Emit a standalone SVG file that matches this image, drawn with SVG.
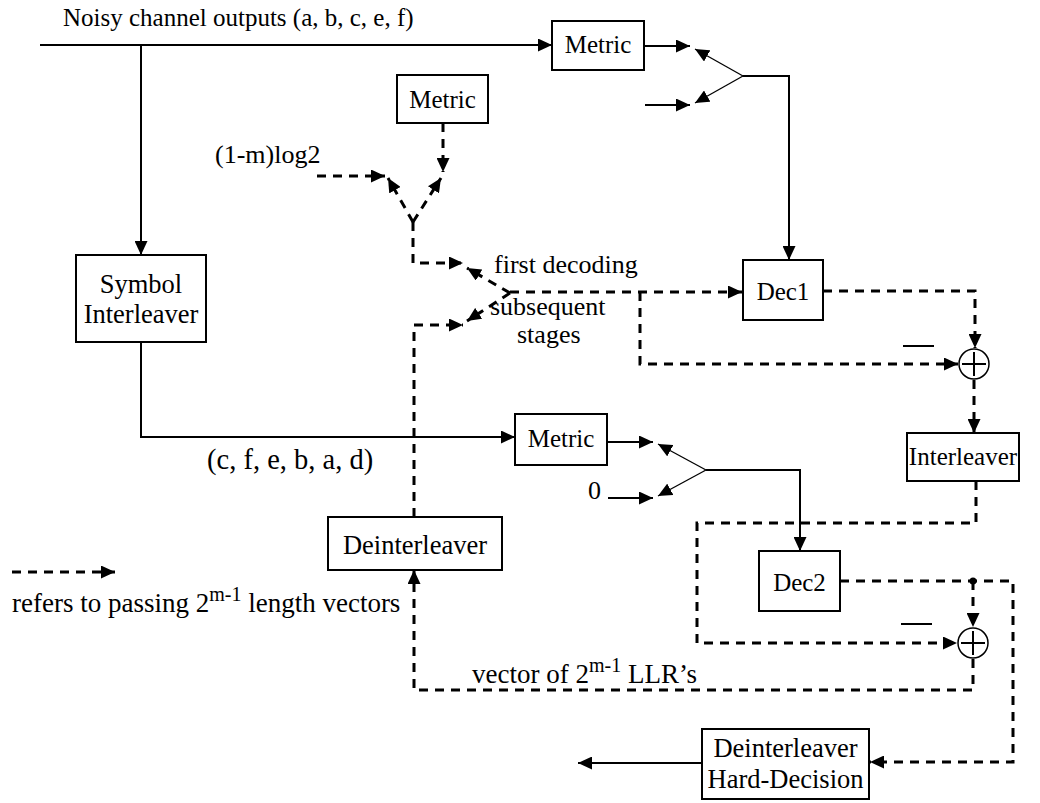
<svg xmlns="http://www.w3.org/2000/svg" width="1040" height="803" viewBox="0 0 1040 803">
<style>
  text{font-family:'Liberation Serif','Times New Roman','DejaVu Serif',serif;font-size:25px;fill:#000}
  .m{text-anchor:middle}
  .l{font-size:26.5px}
  .lab{font-size:26px}
  .big{font-size:27px}
  .sup{font-size:20px}
  .box{fill:#fff;stroke:#000;stroke-width:2}
  .s{fill:none;stroke:#000;stroke-width:2}
  .arm{fill:none;stroke:#000;stroke-width:1.3}
  .d{fill:none;stroke:#000;stroke-width:3;stroke-dasharray:9 7}
  .sum{fill:#fff;stroke:#000;stroke-width:1.5}
</style>
<defs>
  <marker id="ah" markerUnits="userSpaceOnUse" markerWidth="15" markerHeight="13" refX="14" refY="6.5" orient="auto">
    <path d="M0,0 L14,6.5 L0,13 z" fill="#000"/>
  </marker>
</defs>
<rect width="1040" height="803" fill="#fff"/>

<g id="connectors">
  <!-- solid signal paths -->
  <path class="s" d="M40,45 H552" marker-end="url(#ah)"/>
  <path class="s" d="M141,45 V255" marker-end="url(#ah)"/>
  <path class="s" d="M141,342 V437 H515" marker-end="url(#ah)"/>
  <path class="s" d="M644,46 H690" marker-end="url(#ah)"/>
  <path class="s" d="M645,105 H690" marker-end="url(#ah)"/>
  <path class="arm" d="M743,76 L695,49" marker-end="url(#ah)"/>
  <path class="arm" d="M743,76 L695,103" marker-end="url(#ah)"/>
  <path class="s" d="M743,76 H789 V260" marker-end="url(#ah)"/>
  <path class="s" d="M607,442 H653" marker-end="url(#ah)"/>
  <path class="s" d="M608,498 H653" marker-end="url(#ah)"/>
  <path class="arm" d="M706,470 L658,444" marker-end="url(#ah)"/>
  <path class="arm" d="M706,470 L658,496" marker-end="url(#ah)"/>
  <path class="s" d="M706,470 H800 V551" marker-end="url(#ah)"/>
  <path class="s" d="M702,763 H578" marker-end="url(#ah)"/>

  <!-- vector (dashed) paths -->
  <path class="d" d="M443,123 V172" marker-end="url(#ah)"/>
  <path class="d" d="M317,176 H385" marker-end="url(#ah)"/>
  <path class="d" d="M413,222 L388,178" marker-end="url(#ah)"/>
  <path class="d" d="M413,222 L441,178" marker-end="url(#ah)"/>
  <path class="d" d="M413,222 V263 H463" marker-end="url(#ah)"/>
  <path class="d" d="M414,517 V325 H463" marker-end="url(#ah)"/>
  <path class="d" d="M510,293 L467,268" marker-end="url(#ah)"/>
  <path class="d" d="M510,293 L467,321" marker-end="url(#ah)"/>
  <path class="d" d="M510,292 H742" marker-end="url(#ah)"/>
  <path class="d" d="M640,292 V364 H958" marker-end="url(#ah)"/>
  <path class="d" d="M823,291 H975 V348" marker-end="url(#ah)"/>
  <path class="d" d="M974,380 V433" marker-end="url(#ah)"/>
  <path class="d" d="M976,481 V523 H697 V643 H957" marker-end="url(#ah)"/>
  <path class="d" d="M840,581 H1013 V762 H870" marker-end="url(#ah)"/>
  <path class="d" d="M973,581 V627" marker-end="url(#ah)"/>
  <circle cx="973" cy="581" r="3.5" fill="#000"/>
  <path class="d" d="M973,659 V690 H414 V570" marker-end="url(#ah)"/>
  <path class="d" d="M12,572 H115" marker-end="url(#ah)"/>

  <!-- minus signs at the summing junctions -->
  <path class="s" d="M903,346 H934"/>
  <path class="s" d="M901,624 H932"/>
</g>

<g id="sum1">
  <circle class="sum" cx="974" cy="364" r="15"/>
  <path class="s" d="M974,352 V376 M962,364 H986"/>
</g>
<g id="sum2">
  <circle class="sum" cx="973" cy="643" r="15"/>
  <path class="s" d="M973,631 V655 M961,643 H985"/>
</g>

<g id="metric-top">
  <rect class="box" x="552" y="21" width="92" height="49"/>
  <text class="m" x="598" y="53">Metric</text>
</g>
<g id="metric-mid">
  <rect class="box" x="397" y="75" width="91" height="48"/>
  <text class="m" x="442.5" y="108">Metric</text>
</g>
<g id="metric-low">
  <rect class="box" x="515" y="414" width="92" height="51"/>
  <text class="m" x="561" y="447">Metric</text>
</g>
<g id="symbol-interleaver">
  <rect class="box" x="76" y="255" width="130" height="87"/>
  <text class="m l" x="141" y="293">Symbol</text>
  <text class="m l" x="141" y="323">Interleaver</text>
</g>
<g id="dec1">
  <rect class="box" x="743" y="260" width="80" height="60"/>
  <text class="m" x="783" y="300">Dec1</text>
</g>
<g id="interleaver">
  <rect class="box" x="907" y="433" width="112" height="48"/>
  <text class="m" x="963" y="465">Interleaver</text>
</g>
<g id="dec2">
  <rect class="box" x="759" y="551" width="81" height="60"/>
  <text class="m" x="799.5" y="591">Dec2</text>
</g>
<g id="deinterleaver">
  <rect class="box" x="328" y="517" width="174" height="53"/>
  <text class="m l" x="415" y="554">Deinterleaver</text>
</g>
<g id="deinterleaver-hard-decision">
  <rect class="box" x="702" y="729" width="167" height="70"/>
  <text class="m l" x="785.5" y="757">Deinterleaver</text>
  <text class="m l" x="785.5" y="788">Hard-Decision</text>
</g>

<g id="labels">
  <text x="63" y="26">Noisy channel outputs (a, b, c, e, f)</text>
  <text class="lab" x="215" y="163">(1-m)log2</text>
  <text class="lab" x="494" y="273">first decoding</text>
  <text class="lab" x="490" y="315">subsequent</text>
  <text class="lab" x="517" y="343">stages</text>
  <text class="big" x="207" y="469" style="font-size:28.5px">(c, f, e, b, a, d)</text>
  <text class="lab" x="588" y="499">0</text>
  <text class="big" x="12" y="612">refers to passing 2<tspan class="sup" dy="-11">m-1</tspan><tspan dy="11"> length vectors</tspan></text>
  <text class="big" x="472" y="683">vector of 2<tspan class="sup" dy="-11">m-1</tspan><tspan dy="11"> LLR’s</tspan></text>
</g>
</svg>
